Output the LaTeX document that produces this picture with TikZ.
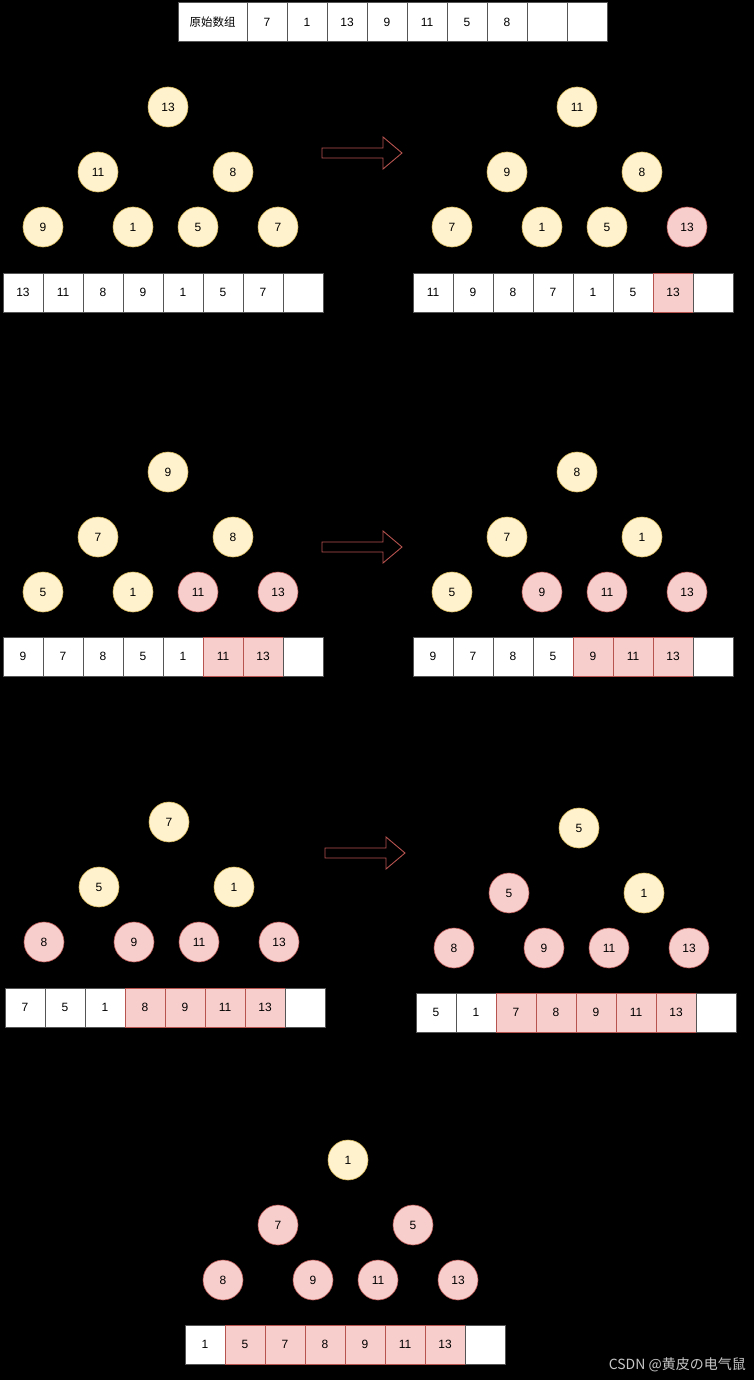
\documentclass[tikz,border=0pt]{standalone}
\usepackage{fontspec}
\setmainfont{Liberation Sans}
\newfontfamily\cjk{Noto Sans CJK SC}
\definecolor{yF}{HTML}{FFF2CC}
\definecolor{yB}{HTML}{D6B656}
\definecolor{pF}{HTML}{F8CECC}
\definecolor{pB}{HTML}{B85450}
\definecolor{wF}{HTML}{FFFFFF}
\definecolor{wB}{HTML}{555555}
\tikzset{
  num/.style={font=\fontsize{12}{14}\selectfont, text=black},
  circ/.style={circle, minimum size=40pt, inner sep=0pt, line width=0.6pt, num},
  cell/.style={rectangle, minimum width=40pt, minimum height=39pt, inner sep=0pt, line width=0.6pt, num},
  harrow/.style={draw=pB, line width=0.9pt},
}
\newcommand\heaptree[4]{%
  \foreach \s/\v [count=\i from 0] in {#4}{%
    \pgfmathsetmacro\dx{{0,-70,65,-125,-35,30,110}[\i]}%
    \pgfmathsetmacro\dy{{0,65,65,120,120,120,120}[\i]}%
    \node[circ, fill=\s F, draw=\s B] (#1n\i) at (#2+\dx,#3+\dy) {\v};
  }}
\newcommand\heaparr[4]{%
  \foreach \s/\v [count=\i from 0] in {#4}{%
    \node[cell, fill=\s F, draw=\s B] (#1c\i) at (#2+20+40*\i,#3+19.5) {\v};
  }}
\newcommand\fatarrow[2]{%
  \draw[harrow] (#1,#2-5) -- ++(61,0) -- ++(0,-11) -- ++(19,16) -- ++(-19,16) -- ++(0,-11) -- ++(-61,0) -- cycle;}
\begin{document}
\begin{tikzpicture}[x=1pt,y=-1pt]
\fill[black] (0,0) rectangle (754,1380);
\useasboundingbox (0,0) rectangle (754,1380);

% original array
\node[cell, minimum width=69pt, fill=white, draw=wB, font=\cjk\fontsize{11.5}{13}\selectfont] (lbl) at (212.5,22) {原始数组};
\heaparr{top}{247}{2.5}{w/7,w/1,w/13,w/9,w/11,w/5,w/8,w/{},w/{}}

% block 1
\heaptree{aL}{168}{107}{y/13,y/11,y/8,y/9,y/1,y/5,y/7}
\heaparr{aL}{3}{273}{w/13,w/11,w/8,w/9,w/1,w/5,w/7,w/{}}
\fatarrow{322}{153}
\heaptree{aR}{577}{107}{y/11,y/9,y/8,y/7,y/1,y/5,p/13}
\heaparr{aR}{413}{273}{w/11,w/9,w/8,w/7,w/1,w/5,p/13,w/{}}

% block 2
\heaptree{bL}{168}{472}{y/9,y/7,y/8,y/5,y/1,p/11,p/13}
\heaparr{bL}{3}{637}{w/9,w/7,w/8,w/5,w/1,p/11,p/13,w/{}}
\fatarrow{322}{547}
\heaptree{bR}{577}{472}{y/8,y/7,y/1,y/5,p/9,p/11,p/13}
\heaparr{bR}{413}{637}{w/9,w/7,w/8,w/5,p/9,p/11,p/13,w/{}}

% block 3
\heaptree{cL}{169}{822}{y/7,y/5,y/1,p/8,p/9,p/11,p/13}
\heaparr{cL}{5}{988}{w/7,w/5,w/1,p/8,p/9,p/11,p/13,w/{}}
\fatarrow{325}{853}
\heaptree{cR}{579}{828}{y/5,p/5,y/1,p/8,p/9,p/11,p/13}
\heaparr{cR}{416}{993}{w/5,w/1,p/7,p/8,p/9,p/11,p/13,w/{}}

% block 4
\heaptree{d}{348}{1160}{y/1,p/7,p/5,p/8,p/9,p/11,p/13}
\heaparr{d}{185}{1325}{w/1,p/5,p/7,p/8,p/9,p/11,p/13,w/{}}

% watermark
\node[anchor=east, text=white!78!black, font=\cjk\fontsize{14}{16}\selectfont, inner sep=0pt] (wm) at (746,1365) {CSDN @黄皮の电气鼠};
\end{tikzpicture}
\end{document}
